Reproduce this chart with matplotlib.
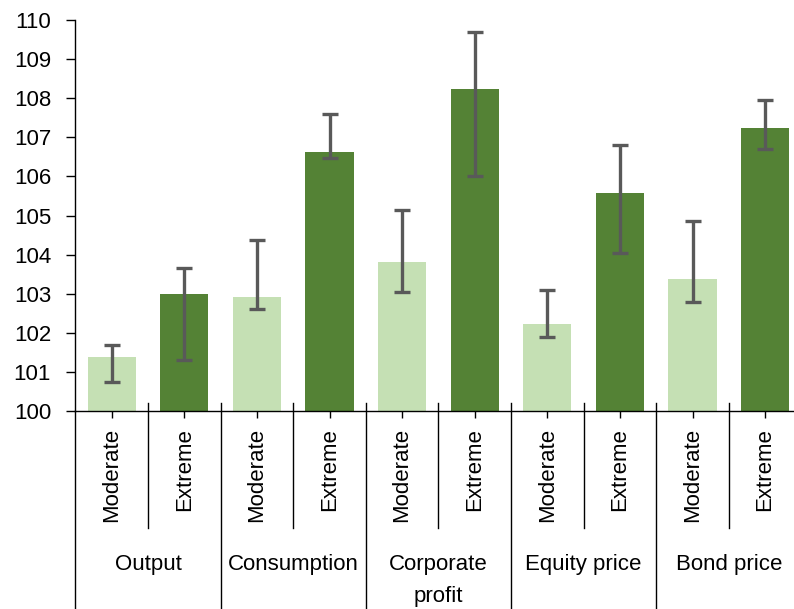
import matplotlib
matplotlib.use("Agg")
import matplotlib.pyplot as plt
import matplotlib.transforms as mtransforms
from matplotlib import font_manager
import numpy as np

plt.rcParams['font.family'] = ['Liberation Sans', 'DejaVu Sans']
names = {f.name for f in font_manager.fontManager.ttflist}
if 'Liberation Sans Narrow' in names:
    cat_family = ['Liberation Sans Narrow', 'DejaVu Sans']
    cat_size = 19.5
else:
    cat_family = ['Liberation Sans', 'DejaVu Sans']
    cat_size = 16

categories = ["Output", "Consumption", "Corporate\nprofit", "Equity price", "Bond price"]
scenarios = ["Moderate", "Extreme"]

moderate = [101.37, 102.92, 103.80, 102.23, 103.38]
moderate_low = [100.73, 102.62, 103.04, 101.89, 102.79]
moderate_high = [101.69, 104.38, 105.14, 103.09, 104.85]

extreme = [103.00, 106.63, 108.23, 105.57, 107.24]
extreme_low = [101.30, 106.48, 106.00, 104.03, 106.69]
extreme_high = [103.65, 107.59, 109.69, 106.81, 107.95]

yticks = list(range(100, 111))

light = "#c5e0b4"
dark = "#548235"
errc = "#595959"

W, H = 794, 609
fig = plt.figure(figsize=(W / 100, H / 100), dpi=100)
left, right, top, bottom = 75.4, 801.4, 20, 411
ax = fig.add_axes([left / W, 1 - bottom / H, (right - left) / W, (bottom - top) / H])

n = len(categories)
xm = np.arange(n) * 2
xe = xm + 1
bw = 0.665

def yerr(vals, lo, hi):
    v = np.array(vals); return [v - np.array(lo), np.array(hi) - v]

ax.bar(xm, np.array(moderate) - 100, bottom=100, width=bw, color=light, zorder=2)
ax.bar(xe, np.array(extreme) - 100, bottom=100, width=bw, color=dark, zorder=2)
ek = dict(fmt='none', ecolor=errc, elinewidth=2.4, capsize=5.8, capthick=2.4, zorder=3)
ax.errorbar(xm, moderate, yerr=yerr(moderate, moderate_low, moderate_high), **ek)
ax.errorbar(xe, extreme, yerr=yerr(extreme, extreme_low, extreme_high), **ek)

ax.set_xlim(-0.5, 2 * n - 0.5)
ax.set_ylim(100, 110)
ax.set_yticks(yticks)
ax.set_yticklabels([str(t) for t in yticks], fontsize=16)
ax.tick_params(axis='y', direction='out', length=6.5, width=1, pad=11, colors='black')
ax.set_xticks(np.concatenate([xm, xe]))
ax.set_xticklabels([])
ax.tick_params(axis='x', direction='out', length=5, width=1)

for s in ['top', 'right']:
    ax.spines[s].set_visible(False)
for s in ['left', 'bottom']:
    ax.spines[s].set_linewidth(1)
    ax.spines[s].set_color('black')

trans = mtransforms.blended_transform_factory(ax.transData, ax.transAxes)
hpx = bottom - top
def ay(py):
    return (bottom - py) / hpx

# separators
for i in range(2 * n + 1):
    xb = i - 0.5
    if i % 2 == 0:
        y0, y1 = ay(403), ay(615)
    else:
        y0, y1 = ay(403), ay(528)
    if i == 0:
        y0 = 0
    ax.plot([xb, xb], [y0, y1], color='black', lw=1, transform=trans, clip_on=False)

for i in range(n):
    ax.text(xm[i], ay(428), scenarios[0], rotation=90, ha='center', va='top',
            fontsize=cat_size, family=cat_family, transform=trans)
    ax.text(xe[i], ay(428), scenarios[1], rotation=90, ha='center', va='top',
            fontsize=cat_size, family=cat_family, transform=trans)
    for k, line in enumerate(categories[i].split("\n")):
        ax.text(xm[i] + 0.5, ay(570 + 32 * k), line, ha='center', va='baseline',
                fontsize=cat_size, family=cat_family, transform=trans)

fig.savefig("out.png", dpi=100)
